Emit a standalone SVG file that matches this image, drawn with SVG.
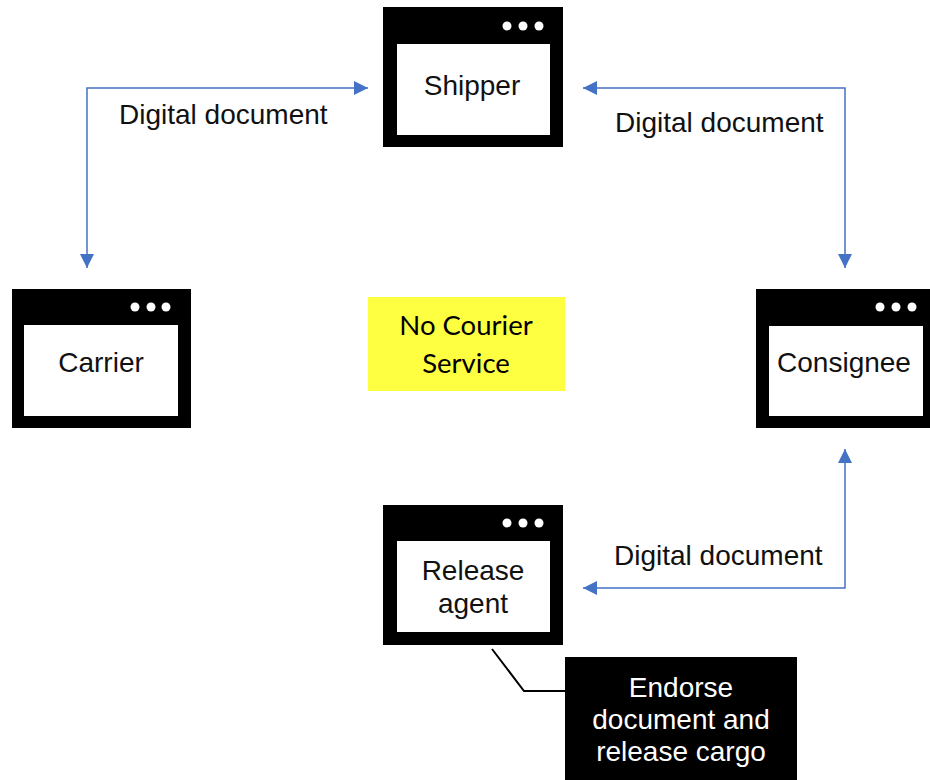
<svg xmlns="http://www.w3.org/2000/svg" width="930" height="780" viewBox="0 0 930 780">
  <style>
    .frame { fill: #000; }
    .pane { fill: #fff; }
    .dot { fill: #fff; }
    .label { font-family: "Liberation Sans", Arial, sans-serif; font-size: 28px; fill: #111; text-anchor: middle; }
    .edge-label { font-family: "Liberation Sans", Arial, sans-serif; font-size: 28px; fill: #111; text-anchor: start; }
    .note { font-family: "Lato", "Liberation Sans", sans-serif; font-size: 27.5px; fill: #000; text-anchor: middle; }
    .callout-text { font-family: "Liberation Sans", Arial, sans-serif; font-size: 28px; fill: #fff; text-anchor: middle; }
    .flow { fill: none; stroke: #4472C4; stroke-width: 1.5; }
  </style>
  <defs>
    <marker id="arrowBig" viewBox="0 0 14 14" refX="14" refY="7" markerWidth="14" markerHeight="14" markerUnits="userSpaceOnUse" orient="auto-start-reverse">
      <path d="M0,0 L14,7 L0,14 Z" fill="#4472C4"/>
    </marker>
  </defs>

  <rect width="930" height="780" fill="#fff"/>

  <!-- connectors -->
  <g id="connectors">
    <!-- Shipper <-> Carrier -->
    <path class="flow" d="M368,88 H87 V268" marker-start="url(#arrowBig)" marker-end="url(#arrowBig)"/>
    <!-- Shipper <-> Consignee -->
    <path class="flow" d="M583,88 H845 V268" marker-start="url(#arrowBig)" marker-end="url(#arrowBig)"/>
    <!-- Consignee <-> Release agent -->
    <path class="flow" d="M845,449 V588 H583" marker-start="url(#arrowBig)" marker-end="url(#arrowBig)"/>
    <!-- callout leader -->
    <path d="M492,649 L524,691 H565" fill="none" stroke="#000" stroke-width="2"/>
    <text class="edge-label" x="119" y="124">Digital document</text>
    <text class="edge-label" x="615" y="132">Digital document</text>
    <text class="edge-label" x="614" y="565">Digital document</text>
  </g>

  <!-- Shipper -->
  <g id="shipper">
    <rect class="frame" x="383" y="7" width="180" height="140"/>
    <rect class="pane" x="397" y="44" width="153" height="91"/>
    <circle class="dot" cx="507" cy="26" r="4.5"/>
    <circle class="dot" cx="523" cy="26" r="4.5"/>
    <circle class="dot" cx="539" cy="26" r="4.5"/>
    <text class="label" x="472" y="95">Shipper</text>
  </g>

  <!-- Carrier -->
  <g id="carrier">
    <rect class="frame" x="12" y="289" width="179" height="139"/>
    <rect class="pane" x="24" y="325" width="154" height="91"/>
    <circle class="dot" cx="135" cy="307" r="4.5"/>
    <circle class="dot" cx="151" cy="307" r="4.5"/>
    <circle class="dot" cx="166" cy="307" r="4.5"/>
    <text class="label" x="101" y="372">Carrier</text>
  </g>

  <!-- Consignee -->
  <g id="consignee">
    <rect class="frame" x="756" y="289" width="174" height="139"/>
    <rect class="pane" x="769" y="326" width="154" height="90"/>
    <circle class="dot" cx="880" cy="307" r="4.5"/>
    <circle class="dot" cx="896" cy="307" r="4.5"/>
    <circle class="dot" cx="912" cy="307" r="4.5"/>
    <text class="label" x="844" y="372">Consignee</text>
  </g>

  <!-- No Courier Service note -->
  <g id="no-courier">
    <rect x="368" y="297" width="197" height="94" fill="#FFFF42"/>
    <text class="note" x="466" y="335">No Courier</text>
    <text class="note" x="466" y="373">Service</text>
  </g>

  <!-- Release agent -->
  <g id="release-agent">
    <rect class="frame" x="383" y="505" width="180" height="140"/>
    <rect class="pane" x="397" y="541" width="153" height="91"/>
    <circle class="dot" cx="507" cy="523" r="4.5"/>
    <circle class="dot" cx="523" cy="523" r="4.5"/>
    <circle class="dot" cx="539" cy="523" r="4.5"/>
    <text class="label" x="473" y="580">Release</text>
    <text class="label" x="473" y="613">agent</text>
  </g>

  <!-- Endorse callout -->
  <g id="endorse">
    <rect x="565" y="657" width="232" height="123" fill="#000"/>
    <text class="callout-text" x="681" y="697">Endorse</text>
    <text class="callout-text" x="681" y="729">document and</text>
    <text class="callout-text" x="681" y="761">release cargo</text>
  </g>
</svg>
